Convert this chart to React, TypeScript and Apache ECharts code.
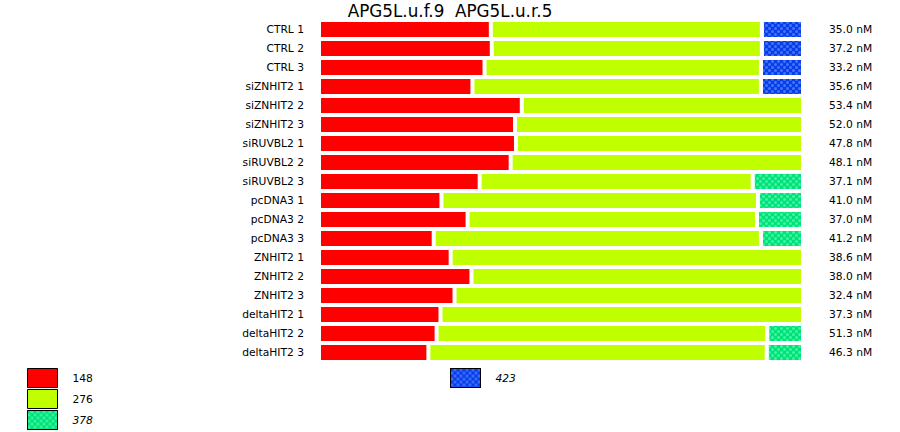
import React, { useEffect, useRef } from "react";
import * as echarts from "echarts";

const categories = [
  "CTRL 1", "CTRL 2", "CTRL 3",
  "siZNHIT2 1", "siZNHIT2 2", "siZNHIT2 3",
  "siRUVBL2 1", "siRUVBL2 2", "siRUVBL2 3",
  "pcDNA3 1", "pcDNA3 2", "pcDNA3 3",
  "ZNHIT2 1", "ZNHIT2 2", "ZNHIT2 3",
  "deltaHIT2 1", "deltaHIT2 2", "deltaHIT2 3",
];
const nmLabels = [
  "35.0 nM", "37.2 nM", "33.2 nM",
  "35.6 nM", "53.4 nM", "52.0 nM",
  "47.8 nM", "48.1 nM", "37.1 nM",
  "41.0 nM", "37.0 nM", "41.2 nM",
  "38.6 nM", "38.0 nM", "32.4 nM",
  "37.3 nM", "51.3 nM", "46.3 nM",
];
// percent of each row
const s148 = [35.5, 35.7, 34.2, 31.7, 41.9, 40.5, 40.7, 39.6, 33.2, 25.3, 30.7, 23.7, 27.2, 31.5, 28.0, 25.1, 24.3, 22.6];
const s276 = [56.0, 55.8, 57.1, 59.6, 58.1, 59.5, 59.3, 60.4, 56.4, 65.4, 59.8, 67.6, 72.8, 68.5, 72.0, 74.9, 68.3, 69.9];
const s378 = [null, null, null, null, null, null, null, null, 10.4, 9.3, 9.5, 8.7, null, null, null, null, 7.4, 7.5];
const s423 = [8.5, 8.5, 8.7, 8.7, null, null, null, null, null, null, null, null, null, null, null, null, null, null];

const FONT = "DejaVu Sans";

export default function App() {
  const ref = useRef<HTMLDivElement>(null);
  useEffect(() => {
    if (!ref.current) return;
    const chart = echarts.init(ref.current, null, { renderer: "svg" });
    const decal = (color: string) => ({
      symbol: "circle",
      symbolSize: 1,
      color,
      dashArrayX: [[3, 3], [0, 3, 3, 0]],
      dashArrayY: [3, 0],
    });
    const base = { type: "bar", stack: "all", barWidth: 19, yAxisIndex: 0 };
    const legendCommon = {
      orient: "vertical",
      top: 368,
      padding: 0,
      height: 64,
      itemWidth: 30,
      itemHeight: 19,
      itemGap: 1,
      selectedMode: false,
      icon: "rect",
      itemStyle: { borderColor: "#000", borderWidth: 1 },
      textStyle: { color: "#000", fontFamily: FONT, fontSize: 10.7, padding: [0, 0, 0, 10] },
    };
    chart.setOption({
      animation: false,
      backgroundColor: "#fff",
      title: {
        text: "APG5L.u.f.9  APG5L.u.r.5",
        left: "center",
        top: 0,
        padding: [2, 5],
        textStyle: { fontFamily: FONT, fontSize: 16.8, fontWeight: "normal", color: "#000" },
      },
      grid: { left: 319, top: 20, width: 484, height: 342 },
      xAxis: { type: "value", min: 0, max: 100, show: false },
      yAxis: [
        {
          type: "category",
          data: categories,
          inverse: true,
          axisLine: { show: false },
          axisTick: { show: false },
          axisLabel: { margin: 15, color: "#000", fontFamily: FONT, fontSize: 10.7 },
        },
        {
          type: "category",
          data: nmLabels,
          inverse: true,
          position: "right",
          axisLine: { show: false },
          axisTick: { show: false },
          axisLabel: { margin: 26, color: "#000", fontFamily: FONT, fontSize: 10.7, align: "left" },
        },
      ],
      legend: [
        {
          ...legendCommon,
          left: 27,
          data: [
            { name: "148" },
            { name: "276" },
            { name: "378", textStyle: { fontStyle: "italic" } },
          ],
        },
        {
          ...legendCommon,
          left: 450,
          data: [{ name: "423", textStyle: { fontStyle: "italic" } }],
        },
      ],
      series: [
        { ...base, name: "148", data: s148, itemStyle: { color: "#ff0000", borderColor: "#fff", borderWidth: 2 } },
        { ...base, name: "276", data: s276, itemStyle: { color: "#c0ff00", borderColor: "#fff", borderWidth: 2 } },
        {
          ...base,
          name: "378",
          data: s378,
          itemStyle: { color: "#00e07b", borderColor: "#fff", borderWidth: 2, decal: decal("#3cf79e") },
        },
        {
          ...base,
          name: "423",
          data: s423,
          itemStyle: { color: "#0a3ce8", borderColor: "#fff", borderWidth: 2, decal: decal("#3f74ff") },
        },
      ],
    });
    return () => chart.dispose();
  }, []);
  return <div ref={ref} style={{ position: "absolute", left: 0, top: 0, width: 900, height: 432 }} />;
}
